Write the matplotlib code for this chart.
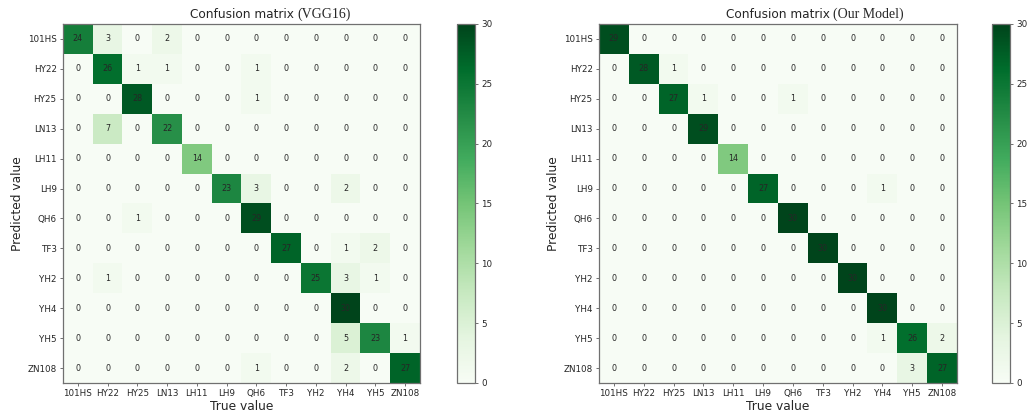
import matplotlib
matplotlib.use("Agg")
import matplotlib.pyplot as plt
import numpy as np

classes = ["101HS", "HY22", "HY25", "LN13", "LH11", "LH9",
           "QH6", "TF3", "YH2", "YH4", "YH5", "ZN108"]

# rows = predicted, cols = true
cm_vgg16 = [
    [24, 3, 0, 2, 0, 0, 0, 0, 0, 0, 0, 0],
    [0, 26, 1, 1, 0, 0, 1, 0, 0, 0, 0, 0],
    [0, 0, 28, 0, 0, 0, 1, 0, 0, 0, 0, 0],
    [0, 7, 0, 22, 0, 0, 0, 0, 0, 0, 0, 0],
    [0, 0, 0, 0, 14, 0, 0, 0, 0, 0, 0, 0],
    [0, 0, 0, 0, 0, 23, 3, 0, 0, 2, 0, 0],
    [0, 0, 1, 0, 0, 0, 29, 0, 0, 0, 0, 0],
    [0, 0, 0, 0, 0, 0, 0, 27, 0, 1, 2, 0],
    [0, 1, 0, 0, 0, 0, 0, 0, 25, 3, 1, 0],
    [0, 0, 0, 0, 0, 0, 0, 0, 0, 30, 0, 0],
    [0, 0, 0, 0, 0, 0, 0, 0, 0, 5, 23, 1],
    [0, 0, 0, 0, 0, 0, 1, 0, 0, 2, 0, 27],
]

cm_ours = [
    [29, 0, 0, 0, 0, 0, 0, 0, 0, 0, 0, 0],
    [0, 28, 1, 0, 0, 0, 0, 0, 0, 0, 0, 0],
    [0, 0, 27, 1, 0, 0, 1, 0, 0, 0, 0, 0],
    [0, 0, 0, 29, 0, 0, 0, 0, 0, 0, 0, 0],
    [0, 0, 0, 0, 14, 0, 0, 0, 0, 0, 0, 0],
    [0, 0, 0, 0, 0, 27, 0, 0, 0, 1, 0, 0],
    [0, 0, 0, 0, 0, 0, 30, 0, 0, 0, 0, 0],
    [0, 0, 0, 0, 0, 0, 0, 30, 0, 0, 0, 0],
    [0, 0, 0, 0, 0, 0, 0, 0, 30, 0, 0, 0],
    [0, 0, 0, 0, 0, 0, 0, 0, 0, 30, 0, 0],
    [0, 0, 0, 0, 0, 0, 0, 0, 0, 1, 26, 2],
    [0, 0, 0, 0, 0, 0, 0, 0, 0, 0, 3, 27],
]

W, H = 1033, 416
txt = "#262626"
edge = "#707070"


def px(x0, y0, x1, y1):
    return [x0 / W, 1 - y1 / H, (x1 - x0) / W, (y1 - y0) / H]


def draw_cm(fig, rect, cbar_rect, cm, suffix):
    cm = np.array(cm)
    ax = fig.add_axes(rect)
    im = ax.imshow(cm, cmap="Greens", vmin=0, vmax=30, aspect="auto",
                   interpolation="nearest")
    n = len(classes)
    for i in range(n):
        for j in range(n):
            ax.text(j, i, str(cm[i, j]), ha="center", va="center",
                    fontsize=5.8, color=txt)
    ax.set_xticks(range(n))
    ax.set_yticks(range(n))
    ax.set_xticklabels(classes)
    ax.set_yticklabels(classes)
    ax.tick_params(labelsize=6.3, colors=edge, labelcolor=txt,
                   length=2.5, width=0.7, pad=2)
    for s in ax.spines.values():
        s.set_color(edge)
        s.set_linewidth(0.9)
    ax.set_xlabel("True value", fontsize=8.8, color=txt, labelpad=1)
    ax.set_ylabel("Predicted value", fontsize=8.8, color=txt, labelpad=2.5)
    t = ax.set_title("Confusion matrix", fontsize=8.7, color=txt, pad=4)
    ax.annotate(suffix, xy=(1, 0), xycoords=t, xytext=(2.5, 0),
                textcoords="offset points", va="bottom", ha="left",
                fontsize=10, color=txt, family="Liberation Serif")

    cax = fig.add_axes(cbar_rect)
    cb = fig.colorbar(im, cax=cax, ticks=[0, 5, 10, 15, 20, 25, 30])
    cb.outline.set_edgecolor(edge)
    cb.outline.set_linewidth(0.9)
    cax.tick_params(labelsize=6.3, colors=edge, labelcolor=txt,
                    length=2.5, width=0.7, pad=2)
    return ax


fig = plt.figure(figsize=(W / 100, H / 100), dpi=100)
draw_cm(fig, px(63, 24, 420, 383), px(457, 24, 475, 383), cm_vgg16, "(VGG16)")
draw_cm(fig, px(599, 24, 957, 383), px(992, 24, 1010, 383), cm_ours, "(Our Model)")

fig.savefig("out.png", dpi=100)
